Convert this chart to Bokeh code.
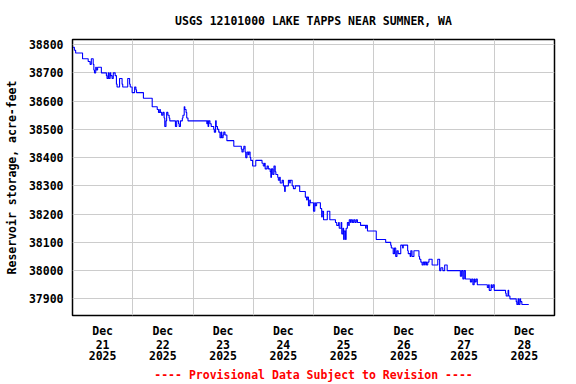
from bokeh.plotting import figure
from bokeh.models import FixedTicker, Range1d, Title, LinearAxis
from bokeh.embed import file_html
from bokeh.resources import INLINE

# Hours since 2025-12-21 00:00 (local) and reservoir storage (acre-feet); step changes
hours = [
    0.25, 0.75, 1.25, 4.0, 6.25, 7.0, 7.5, 8.25, 8.5, 8.75, 9.25, 9.5, 10.0, 11.5,
    13.5, 13.75, 14.25, 14.5, 15.0, 15.25, 15.75, 16.25, 17.0, 17.5, 17.75, 18.75,
    19.75, 20.0, 22.0, 22.75, 23.0, 23.75, 24.75, 25.25, 25.5, 28.25, 31.75, 33.75,
    34.25, 34.75, 35.0, 35.5, 36.0, 36.5, 36.75, 37.25, 37.5, 38.0, 38.5, 38.75,
    41.0, 41.5, 42.25, 42.5, 43.0, 43.75, 44.0, 44.5, 44.75, 45.25, 45.5, 46.0,
    53.5, 53.75, 54.0, 54.25, 54.75, 55.25, 56.25, 56.5, 57.0, 57.25, 57.75, 58.25,
    58.75, 59.25, 59.5, 60.0, 60.25, 60.75, 61.5, 64.25, 67.25, 67.5, 68.0, 68.25,
    68.75, 69.0, 69.5, 70.0, 70.25, 70.75, 71.0, 71.75, 73.0, 75.5, 76.0, 76.5,
    76.75, 77.5, 78.0, 78.75, 79.0, 79.25, 79.75, 80.25, 80.75, 81.0, 81.75, 82.0,
    82.5, 82.75, 83.5, 84.0, 84.5, 84.75, 86.0, 86.5, 86.75, 87.5, 88.0, 88.75,
    90.5, 92.75, 93.25, 93.5, 94.0, 94.5, 94.75, 96.0, 96.5, 96.75, 97.25, 98.75,
    99.25, 99.5, 100.0, 101.5, 102.5, 104.75, 105.25, 106.0, 106.25, 107.0, 107.25,
    107.75, 108.0, 108.25, 108.75, 109.0, 109.5, 110.0, 110.25, 110.75, 111.0,
    111.5, 112.0, 112.5, 113.0, 113.5, 114.75, 116.75, 117.0, 117.5, 121.0, 124.75,
    126.75, 127.0, 127.75, 128.25, 128.75, 129.25, 129.75, 130.75, 131.5, 131.75,
    133.5, 133.75, 134.5, 134.75, 135.25, 136.0, 138.0, 138.25, 138.75, 139.25,
    139.75, 140.25, 140.5, 141.0, 141.5, 142.0, 143.25, 145.5, 146.25, 146.75,
    147.5, 148.25, 149.25, 154.5, 155.0, 155.5, 156.0, 156.5, 158.5, 159.0, 159.5,
    160.0, 160.25, 160.75, 161.25, 165.25, 165.75, 166.0, 166.75, 167.0, 167.5,
    168.0, 172.5, 172.75, 173.5, 173.75, 174.25, 176.75, 177.0, 177.5, 177.75,
    178.25, 178.5, 179.0, 181.75,
]
storage = [
    38790, 38780, 38770, 38750, 38740, 38730, 38750, 38730, 38710, 38700, 38720, 38710, 38720, 38700,
    38690, 38680, 38700, 38680, 38700, 38690, 38680, 38700, 38690, 38660, 38650, 38680,
    38660, 38650, 38680, 38660, 38650, 38630, 38650, 38640, 38630, 38610, 38580, 38570,
    38560, 38570, 38560, 38550, 38560, 38540, 38510, 38530, 38560, 38550, 38540, 38530,
    38510, 38530, 38520, 38510, 38530, 38540, 38550, 38580, 38570, 38560, 38540, 38530,
    38520, 38530, 38510, 38530, 38520, 38510, 38500, 38490, 38530, 38510, 38500, 38490,
    38470, 38490, 38470, 38480, 38490, 38480, 38460, 38440, 38430, 38420, 38430, 38440,
    38420, 38400, 38420, 38410, 38420, 38400, 38390, 38370, 38390, 38380, 38370, 38380,
    38360, 38370, 38360, 38350, 38330, 38360, 38340, 38370, 38350, 38340, 38330, 38320,
    38330, 38310, 38320, 38300, 38280, 38300, 38320, 38310, 38320, 38300, 38290, 38300,
    38280, 38260, 38250, 38260, 38230, 38250, 38240, 38210, 38240, 38230, 38240, 38220,
    38190, 38210, 38180, 38210, 38180, 38170, 38160, 38170, 38150, 38170, 38130,
    38150, 38110, 38140, 38110, 38150, 38170, 38160, 38180, 38170, 38180,
    38170, 38180, 38170, 38180, 38170, 38160, 38150, 38160, 38140, 38110, 38100,
    38090, 38080, 38060, 38080, 38050, 38070, 38060, 38090, 38080, 38090,
    38070, 38060, 38050, 38070, 38050, 38070, 38050, 38040, 38030, 38020,
    38030, 38020, 38030, 38020, 38030, 38040, 38020, 38040, 38000, 38010,
    38000, 38020, 38000, 37980, 38000, 37970, 38000, 37970, 37960, 37970, 37950,
    37970, 37960, 37970, 37950, 37940, 37950, 37930, 37950, 37940, 37950,
    37930, 37920, 37910, 37930, 37910, 37900, 37890, 37880, 37900, 37880,
    37900, 37890, 37880, 37880,
]

grid_hours = [0, 24, 48, 72, 96, 120, 144, 168, 192]
label_hours = [12, 36, 60, 84, 108, 132, 156, 180]
label_month = ["Dec"] * 8
label_day = ["21", "22", "23", "24", "25", "26", "27", "28"]
label_year = ["2025"] * 8
y_ticks = [37900, 38000, 38100, 38200, 38300, 38400, 38500, 38600, 38700, 38800]

FONT = "DejaVu Sans Mono"
FS = "11.5px"

p = figure(width=576, height=384, output_backend="svg", toolbar_location=None,
           x_range=Range1d(0, 192), y_range=Range1d(37841, 38818),
           min_border_left=72, min_border_right=22, min_border_top=39, min_border_bottom=69)

p.title.text = "USGS 12101000 LAKE TAPPS NEAR SUMNER, WA"
p.title.align = "center"
p.title.vertical_align = "middle"
p.title.text_font = FONT
p.title.text_font_style = "bold"
p.title.text_font_size = FS
p.title.text_color = "black"
p.title.standoff = 22

p.step(hours, storage, mode="after", line_color="#0000ff", line_width=1.1)

p.outline_line_color = "black"
p.outline_line_width = 1.5


def style_axis(ax, standoff):
    ax.axis_line_color = None
    ax.major_tick_line_color = None
    ax.minor_tick_line_color = None
    ax.major_tick_out = 0
    ax.major_tick_in = 0
    ax.major_label_text_font = FONT
    ax.major_label_text_font_style = "bold"
    ax.major_label_text_font_size = FS
    ax.major_label_text_color = "black"
    ax.major_label_standoff = standoff


xa = p.xaxis[0]
xa.ticker = FixedTicker(ticks=label_hours)
xa.major_label_overrides = {h: s for h, s in zip(label_hours, label_month)}
style_axis(xa, 8)

for labels in (label_day, label_year):
    ax = LinearAxis(ticker=FixedTicker(ticks=label_hours),
                    major_label_overrides={h: s for h, s in zip(label_hours, labels)})
    style_axis(ax, -1)
    p.add_layout(ax, "below")

p.xgrid.ticker = FixedTicker(ticks=grid_hours)
p.yaxis.ticker = FixedTicker(ticks=y_ticks)
style_axis(p.yaxis[0], 9)
p.yaxis.axis_label = "Reservoir storage, acre-feet"
p.yaxis.axis_label_text_font = FONT
p.yaxis.axis_label_text_font_style = "bold"
p.yaxis.axis_label_text_font_size = FS
p.yaxis.axis_label_text_color = "black"
p.yaxis.axis_label_standoff = 7

p.xgrid.grid_line_color = "#cccccc"
p.ygrid.grid_line_color = "#cccccc"
p.xgrid.grid_line_width = 1
p.ygrid.grid_line_width = 1

footer = Title(text="---- Provisional Data Subject to Revision ----", align="center",
               text_color="red", text_font=FONT, text_font_style="bold", text_font_size=FS,
               standoff=6)
p.add_layout(footer, "below")

open("out.html", "w").write(file_html(p, INLINE))
